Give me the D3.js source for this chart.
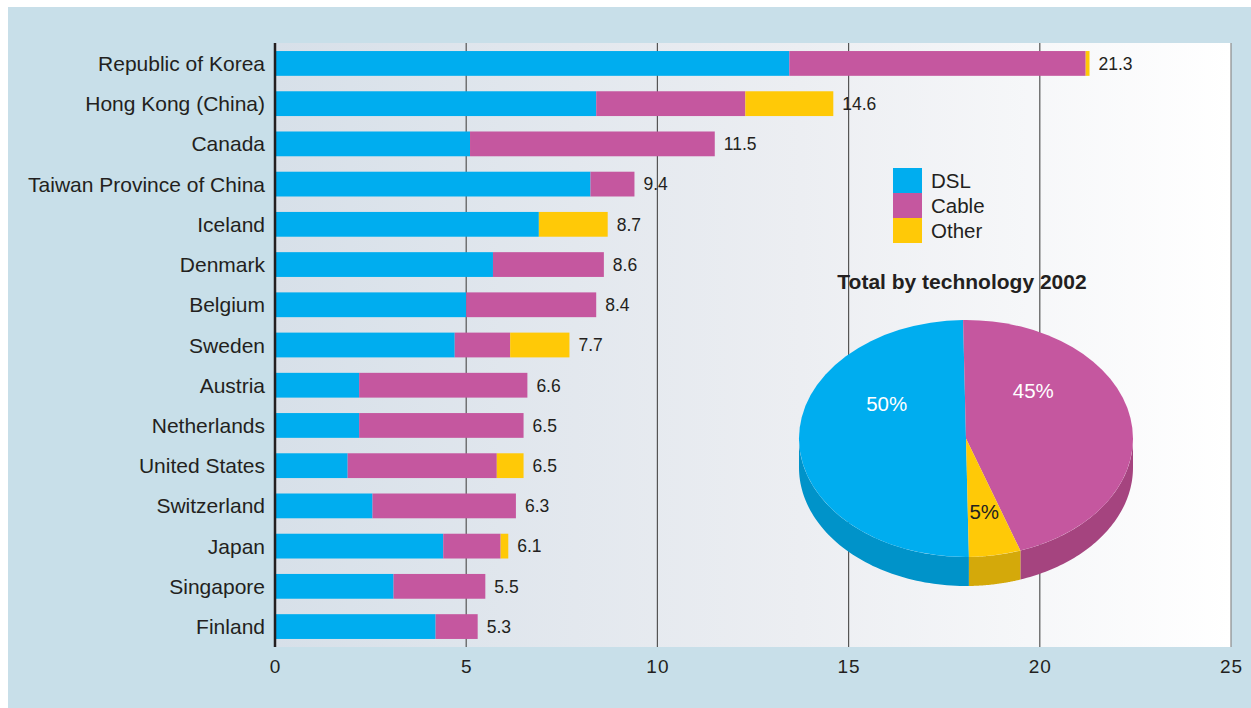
<!DOCTYPE html>
<html>
<head>
<meta charset="utf-8">
<script src="https://cdn.jsdelivr.net/npm/d3@7"></script>
<style>
  html, body { margin: 0; padding: 0; background: #ffffff; }
  svg { display: block; font-family: "Liberation Sans", Arial, Helvetica, sans-serif; }
</style>
</head>
<body>
<svg id="chart" width="1251" height="708"></svg>
<script>
// Broadband subscribers per 100 inhabitants, 2002, by technology
const countries = [
  "Republic of Korea", "Hong Kong (China)", "Canada", "Taiwan Province of China",
  "Iceland", "Denmark", "Belgium", "Sweden", "Austria", "Netherlands",
  "United States", "Switzerland", "Japan", "Singapore", "Finland"
];
const dsl   = [13.45, 8.4, 5.1, 8.25, 6.9, 5.7, 5.0, 4.7, 2.2, 2.2, 1.9, 2.55, 4.4, 3.1, 4.2];
const cable = [7.75,  3.9, 6.4, 1.15, 0.0, 2.9, 3.4, 1.45, 4.4, 4.3, 3.9, 3.75, 1.5, 2.4, 1.1];
const other = [0.1,   2.3, 0.0, 0.0,  1.8, 0.0, 0.0, 1.55, 0.0, 0.0, 0.7, 0.0,  0.2, 0.0, 0.0];
const totals = [21.3, 14.6, 11.5, 9.4, 8.7, 8.6, 8.4, 7.7, 6.6, 6.5, 6.5, 6.3, 6.1, 5.5, 5.3];
const xTicks = [0, 5, 10, 15, 20, 25];

const technologies = ["DSL", "Cable", "Other"];
const pieShares = [50, 45, 5];            // percent of total, 2002
const pieTitle = "Total by technology 2002";

const colors = { DSL: "#00adef", Cable: "#c5579f", Other: "#ffc907" };
const sideColors = { DSL: "#0093c9", Cable: "#a5447f", Other: "#d4a90a" };

const svg = d3.select("#chart");

// outer panel
svg.append("rect").attr("x", 8).attr("y", 7).attr("width", 1243).attr("height", 701)
  .attr("fill", "#c8dfe9");

const plot = { left: 275, right: 1231, top: 43, bottom: 647 };

const defs = svg.append("defs");
const grad = defs.append("linearGradient").attr("id", "plotBg")
  .attr("x1", "0%").attr("x2", "100%").attr("y1", "0%").attr("y2", "0%");
grad.append("stop").attr("offset", "0%").attr("stop-color", "#d7e0e9");
grad.append("stop").attr("offset", "55%").attr("stop-color", "#eceef2");
grad.append("stop").attr("offset", "100%").attr("stop-color", "#ffffff");

svg.append("rect")
  .attr("x", plot.left).attr("y", plot.top)
  .attr("width", plot.right - plot.left).attr("height", plot.bottom - plot.top)
  .attr("fill", "url(#plotBg)");

const x = d3.scaleLinear().domain([0, 25]).range([plot.left, plot.right]);
const y = d3.scaleBand().domain(countries).range([plot.top, plot.bottom])
  .paddingInner(0.384).paddingOuter(0.2);

// vertical grid lines
svg.append("g").selectAll("line").data(xTicks.filter(t => t > 0)).join("line")
  .attr("x1", d => x(d)).attr("x2", d => x(d))
  .attr("y1", plot.top).attr("y2", plot.bottom)
  .attr("stroke", d => d === 25 ? "#8a8a8a" : "#555555").attr("stroke-width", 1.2);

// stacked bars
const rows = countries.map((c, i) => ({ country: c, DSL: dsl[i], Cable: cable[i], Other: other[i], total: totals[i] }));
const stack = d3.stack().keys(technologies)(rows);

svg.append("g").selectAll("g").data(stack).join("g")
  .attr("fill", s => colors[s.key])
  .selectAll("rect").data(s => s).join("rect")
  .attr("x", d => x(d[0]))
  .attr("width", d => Math.max(0, x(d[1]) - x(d[0])))
  .attr("y", d => y(d.data.country))
  .attr("height", y.bandwidth());

// value labels
svg.append("g").selectAll("text").data(rows).join("text")
  .attr("x", d => x(d.DSL + d.Cable + d.Other) + 9)
  .attr("y", d => y(d.country) + y.bandwidth() / 2)
  .attr("dy", "0.36em")
  .attr("font-size", 17.5).attr("fill", "#231f20")
  .text(d => d3.format(".1f")(d.total));

// category labels
svg.append("g").selectAll("text").data(countries).join("text")
  .attr("x", 265)
  .attr("y", d => y(d) + y.bandwidth() / 2)
  .attr("dy", "0.36em")
  .attr("text-anchor", "end")
  .attr("font-size", 21).attr("fill", "#231f20")
  .text(d => d);

// zero axis line
svg.append("line")
  .attr("x1", x(0)).attr("x2", x(0)).attr("y1", plot.top).attr("y2", plot.bottom)
  .attr("stroke", "#231f20").attr("stroke-width", 2.5);

// x axis tick labels
const xAxis = d3.axisBottom(x).tickValues(xTicks).tickSize(0).tickPadding(0).tickFormat(d3.format("d"));
const xg = svg.append("g").attr("transform", `translate(0,${plot.bottom})`).call(xAxis);
xg.select(".domain").remove();
xg.selectAll("text")
  .attr("y", 19).attr("dy", "0.36em")
  .attr("font-size", 19).attr("fill", "#231f20")
  .attr("font-family", "\"Liberation Sans\", Arial, sans-serif")
  .attr("letter-spacing", "1px");

// legend
const legend = svg.append("g").attr("transform", "translate(893,168)");
const legendRow = 25;
legend.selectAll("rect").data(technologies).join("rect")
  .attr("x", 0).attr("y", (d, i) => i * legendRow)
  .attr("width", 29).attr("height", legendRow)
  .attr("fill", d => colors[d]);
legend.selectAll("text").data(technologies).join("text")
  .attr("x", 38).attr("y", (d, i) => i * legendRow + legendRow / 2)
  .attr("dy", "0.36em")
  .attr("font-size", 20.5).attr("fill", "#231f20")
  .text(d => d);

// pie title
svg.append("text")
  .attr("x", 962).attr("y", 289)
  .attr("text-anchor", "middle")
  .attr("font-size", 21).attr("font-weight", "bold").attr("fill", "#231f20")
  .text(pieTitle);

// 3D pie: elliptical top face with a visible side wall
const pie = { cx: 966, cy: 438.5, rx: 167, ry: 118.5, depth: 29 };
const startAngle = 179 * Math.PI / 180;
const slices = d3.pie().sort(null).value(d => d.share)
  .startAngle(startAngle).endAngle(startAngle + 2 * Math.PI)(
    technologies.map((t, i) => ({ tech: t, share: pieShares[i] })));

const rim = a => [pie.cx + pie.rx * Math.sin(a), pie.cy - pie.ry * Math.cos(a)];

function sidePath(a0, a1) {
  const pts = [];
  const n = 60;
  for (let k = 0; k <= n; k++) pts.push(rim(a0 + (a1 - a0) * k / n));
  const back = pts.slice().reverse().map(p => [p[0], p[1] + pie.depth]);
  return "M" + pts.concat(back).map(p => p.join(",")).join("L") + "Z";
}

const sideG = svg.append("g");
slices.forEach(s => {
  // the wall is visible where the rim faces the viewer (angles between 90° and 270°)
  for (let k = -1; k <= 1; k++) {
    const lo = Math.PI / 2 + k * 2 * Math.PI, hi = 3 * Math.PI / 2 + k * 2 * Math.PI;
    const b0 = Math.max(s.startAngle, lo), b1 = Math.min(s.endAngle, hi);
    if (b1 > b0) {
      sideG.append("path").attr("d", sidePath(b0, b1)).attr("fill", sideColors[s.data.tech]);
    }
  }
});

const arc = d3.arc().innerRadius(0).outerRadius(pie.rx);
svg.append("g")
  .attr("transform", `translate(${pie.cx},${pie.cy}) scale(1,${pie.ry / pie.rx})`)
  .selectAll("path").data(slices).join("path")
  .attr("d", arc)
  .attr("fill", d => colors[d.data.tech]);

// pie labels, placed by angle (degrees clockwise from top) and fraction of radius
const pieLabelAt = { DSL: [302, 0.56], Cable: [45, 0.57], Other: [170, 0.63] };
svg.append("g").selectAll("text").data(slices).join("text")
  .attr("x", d => pie.cx + pie.rx * pieLabelAt[d.data.tech][1] * Math.sin(pieLabelAt[d.data.tech][0] * Math.PI / 180))
  .attr("y", d => pie.cy - pie.ry * pieLabelAt[d.data.tech][1] * Math.cos(pieLabelAt[d.data.tech][0] * Math.PI / 180))
  .attr("dy", "0.36em")
  .attr("text-anchor", "middle")
  .attr("font-size", 20.5)
  .attr("fill", d => d.data.tech === "Other" ? "#231f20" : "#ffffff")
  .text(d => d.data.share + "%");
</script>
</body>
</html>
